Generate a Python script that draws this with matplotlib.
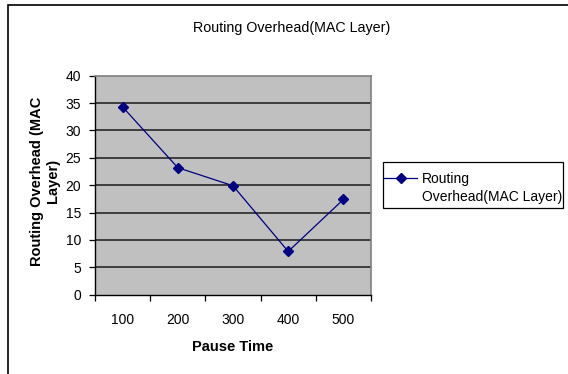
import matplotlib
matplotlib.use("Agg")
import matplotlib.pyplot as plt
from matplotlib.patches import Rectangle
from matplotlib.lines import Line2D

plt.rcParams['font.family'] = ['Liberation Sans', 'DejaVu Sans']

# data
pause_time = ['100', '200', '300', '400', '500']
overhead = [34.3, 23.2, 19.9, 7.9, 17.4]
y_ticks = [0, 5, 10, 15, 20, 25, 30, 35, 40]

W, H = 568, 374
fig = plt.figure(figsize=(W / 100, H / 100), dpi=100)

# outer chart frame (right / bottom edges cropped off in the original)
fig.patches.append(Rectangle((8 / W, -0.2), 1.5, 1.2 - 5 / H, transform=fig.transFigure,
                             fill=False, edgecolor='black', linewidth=1.2))

ax = fig.add_axes([95 / W, 1 - 294.7 / H, 276 / W, 219 / H])
ax.set_facecolor('#C0C0C0')

x = list(range(len(pause_time)))
ax.plot(x, overhead, color='#000080', linewidth=0.9, marker='D', markersize=5,
        markerfacecolor='#000080', markeredgecolor='#000080', zorder=3)

# horizontal gridlines
for v in y_ticks[1:-1]:
    ax.axhline(v, color='#1a1a1a', linewidth=1.1, zorder=1)

ax.set_ylim(0, 40)
ax.set_xlim(-0.5, len(pause_time) - 0.5)
ax.set_yticks(y_ticks)
ax.tick_params(axis='y', direction='out', length=4, width=0.9, pad=6, labelsize=10)

# category boundaries as major ticks, labels on minor ticks
ax.set_xticks([i - 0.5 for i in range(len(pause_time) + 1)])
ax.set_xticklabels([])
ax.set_xticks(x, minor=True)
ax.set_xticklabels(pause_time, minor=True)
ax.tick_params(axis='x', which='major', direction='out', length=4, width=0.9)
ax.tick_params(axis='x', which='minor', length=0, pad=13, labelsize=10)

for s in ['left', 'bottom']:
    ax.spines[s].set_color('black')
    ax.spines[s].set_linewidth(1.0)
for s in ['top', 'right']:
    ax.spines[s].set_color('#808080')
    ax.spines[s].set_linewidth(1.2)

fig.text(292 / W, 1 - 28.3 / H, 'Routing Overhead(MAC Layer)', ha='center', va='center',
         fontsize=10.3)
fig.text(233 / W, 1 - 347 / H, 'Pause Time', ha='center', va='center',
         fontsize=10.5, fontweight='bold')
fig.text(45 / W, 1 - 181 / H, 'Routing Overhead (MAC\nLayer)', ha='center', va='center',
         rotation=90, fontsize=10.5, fontweight='bold', multialignment='center')

# legend: frameless entries plus a plain box around them
fig.patches.append(Rectangle((382.7 / W, 1 - 208.3 / H), (563 - 382.7) / W, 46 / H,
                             transform=fig.transFigure, fill=False,
                             edgecolor='black', linewidth=0.9))
handles = [Line2D([], [], color='#000080', linewidth=0.9, marker='D', markersize=5),
           Line2D([], [], linestyle='none')]
leg = fig.legend(handles, ['Routing', 'Overhead(MAC Layer)'], loc='upper left',
                 bbox_to_anchor=(384 / W, 1 - 172 / H), borderaxespad=0,
                 fontsize=10, frameon=False, borderpad=0,
                 handlelength=2.4, handletextpad=0.3, labelspacing=0.28)

fig.savefig('out.png', dpi=100)
